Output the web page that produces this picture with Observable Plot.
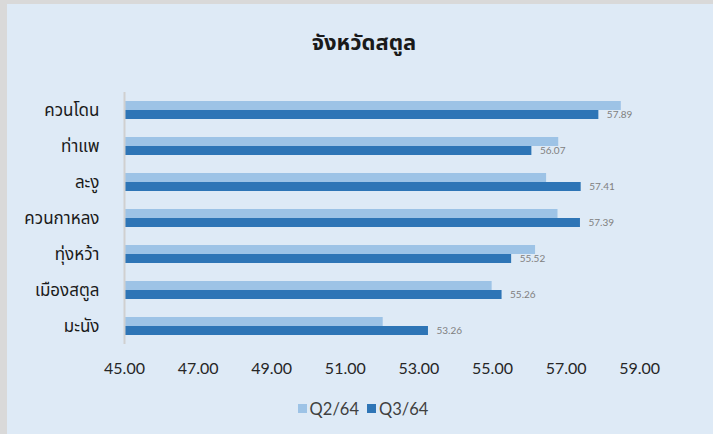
<!DOCTYPE html>
<html>
<head>
<meta charset="utf-8">
<script src="https://cdn.jsdelivr.net/npm/d3@7"></script>
<script src="https://cdn.jsdelivr.net/npm/@observablehq/plot@0.6"></script>
<style>
  html, body { margin: 0; padding: 0; background: #d9d9d9; width: 713px; height: 434px; overflow: hidden; }
  #chart { position: absolute; left: 7px; top: 4px; width: 706px; height: 430px; background: #deeaf6; font-family: Lato, "Noto Sans Thai", "Leelawadee UI", Tahoma, sans-serif; }
  #title { position: absolute; left: 0; width: 706px; top: 23px; text-align: center; font-size: 22px; font-weight: bold; color: #1a1a1a; font-family: "Noto Sans Thai", "Leelawadee UI", Tahoma, sans-serif; padding-left: 8px; box-sizing: border-box; }
  #plot { position: absolute; left: 0; top: 60px; }
  #legend { position: absolute; top: 393px; left: 0; width: 706px; text-align: center; font-size: 16.5px; color: #404040; padding-left: 6px; box-sizing: border-box; }
  #legend span.item { display: inline-flex; align-items: center; margin: 0 4px; }
  #legend span.sw { display: inline-block; width: 9px; height: 9px; margin-right: 3px; }
</style>
</head>
<body>
<div id="chart">
  <div id="title">จังหวัดสตูล</div>
  <div id="plot"></div>
  <div id="legend"></div>
</div>
<script>
const districts = ["ควนโดน", "ท่าแพ", "ละงู", "ควนกาหลง", "ทุ่งหว้า", "เมืองสตูล", "มะนัง"];
const seriesNames = ["Q2/64", "Q3/64"];
const q2Values = [58.50, 56.80, 56.47, 56.78, 56.17, 54.99, 52.03];
const q3Values = [57.89, 56.07, 57.41, 57.39, 55.52, 55.26, 53.26];
const xTicks = [45, 47, 49, 51, 53, 55, 57, 59];
const xMin = 45, xMax = 60;
const colors = ["#9dc3e6", "#2e75b6"];

const data = [];
districts.forEach((d, i) => {
  data.push({district: d, series: seriesNames[0], value: q2Values[i]});
  data.push({district: d, series: seriesNames[1], value: q3Values[i]});
});
const q3Data = data.filter(d => d.series === seriesNames[1]);

const chart = Plot.plot({
  width: 706,
  height: 321,
  marginLeft: 117,
  marginRight: 37,
  marginTop: 27,
  marginBottom: 40,
  style: {background: "transparent", fontFamily: "Lato, 'Noto Sans Thai', 'Leelawadee UI', Tahoma, sans-serif"},
  x: {domain: [xMin, xMax], ticks: xTicks, tickFormat: d3.format(".2f"), label: null, tickSize: 0},
  y: {domain: seriesNames, paddingInner: 0, paddingOuter: 0.91, axis: null},
  fy: {domain: districts, padding: 0, label: null},
  color: {domain: seriesNames, range: colors},
  marks: [
    Plot.barX(data, {x1: xMin, x2: "value", y: "series", fy: "district", fill: "series"}),
    Plot.ruleX([xMin], {stroke: "#d0d0d0", strokeWidth: 2}),
    Plot.text(q3Data, {x: "value", y: "series", fy: "district", text: d => d.value.toFixed(2), dx: 8, textAnchor: "start", fill: "#808080", fontSize: 10}),
    Plot.axisX({ticks: xTicks, tickFormat: d3.format(".2f"), tickSize: 0, tickPadding: 18, fontSize: 16, fill: "#262626", label: null}),
    Plot.axisFy({anchor: "left", tickSize: 0, tickPadding: 25, fontSize: 17, fill: "#1a1a1a", label: null, fontFamily: "'Noto Sans Thai', 'Leelawadee UI', Tahoma, sans-serif"})
  ]
});
document.getElementById("plot").appendChild(chart);

const legend = document.getElementById("legend");
seriesNames.forEach((s, i) => {
  const item = document.createElement("span");
  item.className = "item";
  const sw = document.createElement("span");
  sw.className = "sw";
  sw.style.background = colors[i];
  item.appendChild(sw);
  item.appendChild(document.createTextNode(s));
  legend.appendChild(item);
});
</script>
</body>
</html>
